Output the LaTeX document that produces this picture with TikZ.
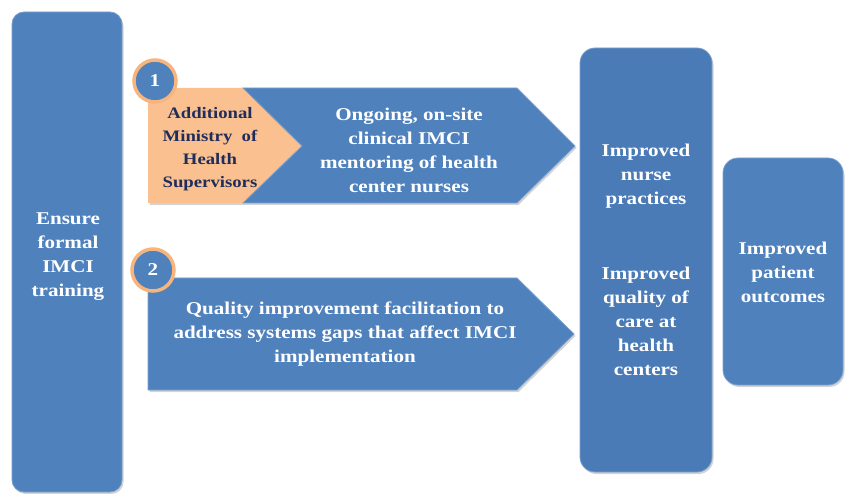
\documentclass[tikz,border=0pt]{standalone}
\usepackage{fontspec}
\setmainfont{Liberation Serif}[FakeStretch=1.17]
\usepackage{xcolor}
\usetikzlibrary{shadows}

\definecolor{boxblue}{HTML}{4F81BD}
\definecolor{boxdark}{HTML}{4A7BB7}
\definecolor{peach}{HTML}{FAC090}
\definecolor{ring}{HTML}{F7B47C}
\definecolor{navy}{HTML}{1F2D5C}

\begin{document}
\begin{tikzpicture}[x=1pt,y=-1pt,
  b/.style={fill=boxblue,draw=boxblue!75!white,line width=0.8pt,
    drop shadow={opacity=0.35,shadow xshift=1.5pt,shadow yshift=-2pt}},
  t/.style={font=\fontsize{18}{24}\selectfont\bfseries,text=white,align=center},
  n/.style={circle,fill=boxblue,draw=ring,line width=3.5pt,minimum size=42pt,inner sep=0pt,
    font=\fontsize{18}{20}\selectfont\bfseries,text=white}]
\useasboundingbox (0,0) rectangle (846,494);

% training column
\path[b,rounded corners=12pt] (12,12) rectangle (122,492);
\node[t] (train) at (68,257) {Ensure\\formal\\IMCI\\training};

% arrow 1: supervisors + mentoring
\path[fill=peach,drop shadow={opacity=0.35,shadow xshift=1.5pt,shadow yshift=-2pt}]
  (148,88) -- (243,88) -- (302,146) -- (243,203) -- (148,203) -- cycle;
\path[b] (243,88) -- (517,88) -- (575,146) -- (517,203) -- (243,203) -- (302,146) -- cycle;
\node[t,text=navy,font=\fontsize{16}{23}\selectfont\bfseries] (sup) at (210,149)
  {Additional\\Ministry~~of\\Health\\Supervisors};
\node[t] (ment) at (409,150) {Ongoing, on-site\\clinical IMCI\\mentoring of health\\center nurses};
\node[n] (one) at (155,81) {1};

% arrow 2: quality improvement
\path[b] (148,278) -- (517,278) -- (574,334) -- (517,390) -- (148,390) -- cycle;
\node[t] (qi) at (345,334) {Quality improvement facilitation to\\address systems gaps that affect IMCI\\implementation};
\node[n] (two) at (153,270) {2};

% outcomes
\path[b,fill=boxdark,rounded corners=15pt] (580,48) rectangle (712,472);
\node[t] (nurse) at (646,176) {Improved\\nurse\\practices};
\node[t] (care) at (646,321) {Improved\\quality of\\care at\\health\\centers};
\path[b,rounded corners=15pt] (723,158) rectangle (843,385);
\node[t] (out) at (783,272) {Improved\\patient\\outcomes};
\end{tikzpicture}
\end{document}
